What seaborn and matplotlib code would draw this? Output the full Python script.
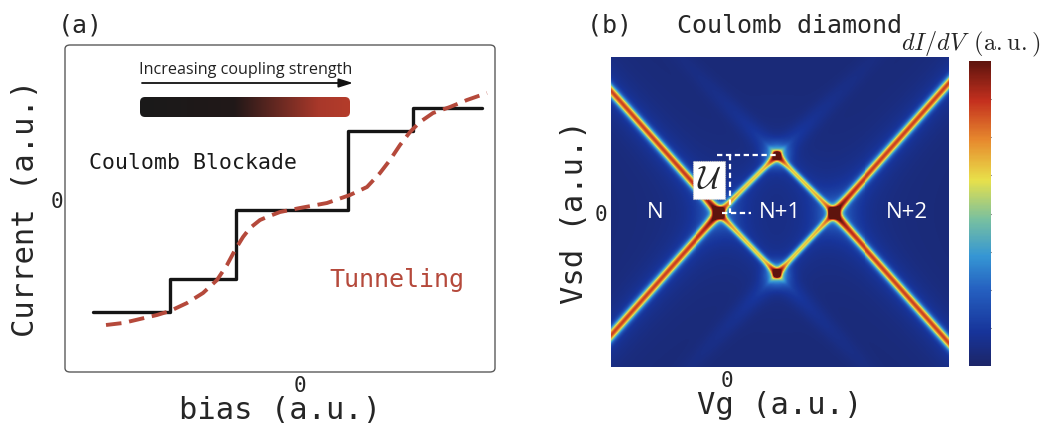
import numpy as np
import matplotlib
matplotlib.use("Agg")
import matplotlib.pyplot as plt
import seaborn as sns
import pandas as pd
from matplotlib.patches import FancyBboxPatch
from matplotlib.colors import LinearSegmentedColormap

# ---------------- panel (a): current vs bias ----------------
step_bias = [-2.07, -1.30, -0.64, 0.48, 1.13, 1.82]
step_current = [-1.12, -0.79, -0.10, 0.69, 0.92, 0.92]

smooth_bias = [-1.94, -1.77, -1.60, -1.43, -1.30, -1.13, -0.97, -0.83, -0.73,
               -0.65, -0.57, -0.50, -0.40, -0.33, -0.20, 0.00, 0.27, 0.50,
               0.67, 0.80, 0.90, 1.00, 1.10, 1.20, 1.33, 1.50, 1.67, 1.87]
smooth_current = [-1.25, -1.23, -1.19, -1.15, -1.11, -1.03, -0.93, -0.80, -0.65,
                  -0.50, -0.37, -0.28, -0.20, -0.17, -0.12, -0.08, -0.03, 0.05,
                  0.13, 0.27, 0.40, 0.55, 0.68, 0.78, 0.87, 0.93, 1.00, 1.07]

# ---------------- panel (b): Coulomb diamond ----------------
degeneracy_vg = [-0.08, 1.07]       # charge degeneracy points at Vsd = 0
vertex_vg = 0.50                    # Vg of the diamond tips
vertex_vsd = [0.58, -0.61]          # Vsd of upper / lower tip
outer_slope = 1.13                  # slope of the edges outside the diamond
vg_range = (-1.16, 2.22)
vsd_range = (-1.54, 1.56)
outer_peak, inner_peak, tail_peak = 0.70, 0.52, 0.30
background_level = 0.03
region_labels = ["N", "N+1", "N+2"]
region_vg = [-0.72, 0.53, 1.80]

MONO = "DejaVu Sans Mono"
RED = "#b5493b"

sns.set_theme(style="white")
plt.rcParams["font.family"] = [MONO, "DejaVu Sans"]
plt.rcParams["mathtext.fontset"] = "cm"

fig = plt.figure(figsize=(10.43, 4.28), dpi=100)
W, H = 1043, 428


def fig_rect(x0, y0, x1, y1):
    return [x0 / W, 1 - y1 / H, (x1 - x0) / W, (y1 - y0) / H]


# ======================= (a) =======================
ax = fig.add_axes(fig_rect(65, 45, 495, 372))
sns.lineplot(x=step_bias, y=step_current, drawstyle="steps-post", color="#151515",
             lw=2.4, estimator=None, sort=False, ax=ax)
sns.lineplot(x=smooth_bias, y=smooth_current, color=RED, lw=2.8,
             linestyle=(0, (4, 2)), estimator=None, sort=False, ax=ax)
ax.set_xlim(-2.35, 1.95)
ax.set_ylim(-1.72, 1.55)
for s in ax.spines.values():
    s.set_visible(False)
ax.add_patch(FancyBboxPatch((0, 0), 1, 1, boxstyle="round,pad=0,rounding_size=0.012",
                            transform=ax.transAxes, fill=False, edgecolor="#5a5a5a",
                            lw=1.0, clip_on=False))
ax.set_xticks([0])
ax.set_xticklabels(["0"])
ax.set_yticks([0])
ax.set_yticklabels(["0"])
ax.tick_params(length=0, labelsize=15, pad=3)
ax.tick_params(axis="y", pad=1)
ax.set_xlabel("bias (a.u.)", fontsize=22, labelpad=0)
ax.set_ylabel("Current (a.u.)", fontsize=22, labelpad=8)

# coupling-strength gradient bar
bar_cmap = LinearSegmentedColormap.from_list(
    "coupling", [(0, "#1a1a1a"), (0.45, "#211818"), (0.85, "#a8382a"), (1, "#b43c2b")])
grad = np.linspace(0, 1, 256)[None, :]
im = ax.imshow(grad, extent=(-1.60, 0.50, 0.83, 1.03), aspect="auto", cmap=bar_cmap,
               zorder=2)
clip = FancyBboxPatch((-1.60, 0.83), 2.10, 0.20, boxstyle="round,pad=0,rounding_size=0.05",
                      transform=ax.transData, facecolor="none", edgecolor="none")
ax.add_patch(clip)
im.set_clip_path(clip)
ax.set_xlim(-2.35, 1.95)
ax.set_ylim(-1.72, 1.55)

ax.annotate("", xy=(0.53, 1.17), xytext=(-1.58, 1.17),
            arrowprops=dict(arrowstyle="-|>,head_length=0.7,head_width=0.22",
                            color="#111111", lw=1.3, shrinkA=0, shrinkB=0))
ax.text(-0.54, 1.30, "Increasing coupling strength", ha="center", va="center",
        fontsize=11.6, family="Open Sans", color="#222222")
ax.text(-2.11, 0.37, "Coulomb Blockade", ha="left", va="center", fontsize=15.5,
        color="#1a1a1a")
ax.text(0.29, -0.80, "Tunneling", ha="left", va="center", fontsize=18, color=RED)

fig.text(58 / W, 1 - 25 / H, "(a)", fontsize=18, va="center", ha="left")

# ======================= (b) =======================
ncols, nrows = 340, 310
vg = np.linspace(vg_range[0], vg_range[1], ncols)
vsd = np.linspace(vsd_range[1], vsd_range[0], nrows)
X, Y = np.meshgrid(vg, vsd)


def segment_distance(p0, p1):
    (x0, y0), (x1, y1) = p0, p1
    dx, dy = x1 - x0, y1 - y0
    length = np.hypot(dx, dy)
    t = ((X - x0) * dx + (Y - y0) * dy) / length ** 2
    tc = np.clip(t, 0, 1)
    d = np.hypot(X - (x0 + tc * dx), Y - (y0 + tc * dy))
    return d, tc * length


def gauss(d, sigma):
    return np.exp(-d ** 2 / (2 * sigma ** 2))


def lorentz(d, g):
    return g ** 2 / (d ** 2 + g ** 2)


G = np.full_like(X, background_level)
far = 4.0
left_vg, right_vg = degeneracy_vg
# resonance lines outside the diamond
for x0, sgn in [(left_vg, -1), (right_vg, 1)]:
    for up in (1, -1):
        p1 = (x0 + sgn * far, up * far * outer_slope)
        d, _ = segment_distance((x0, 0.0), p1)
        G += outer_peak * gauss(d, 0.033) + 0.11 * lorentz(d, 0.13)
# diamond edges and their faint continuation past the tips
for x0 in degeneracy_vg:
    for vs in vertex_vsd:
        d, _ = segment_distance((x0, 0.0), (vertex_vg, vs))
        G += inner_peak * gauss(d, 0.025) + 0.07 * lorentz(d, 0.10)
        ux, uy = vertex_vg - x0, vs
        n = np.hypot(ux, uy)
        p1 = (vertex_vg + ux / n * far, vs + uy / n * far)
        d, s = segment_distance((vertex_vg, vs), p1)
        G += tail_peak * gauss(d, 0.018) * np.exp(-s / 0.07)
        G += 0.09 * gauss(d, 0.07) * np.exp(-s / 0.9)
# glow around the diamond tips
for vs in vertex_vsd:
    r = np.hypot(X - vertex_vg, Y - vs)
    G += 0.16 * gauss(r, 0.08)
G = np.clip(G, 0, 1)
didv = pd.DataFrame(G)

# jet-like map, slightly muted
didv_cmap = LinearSegmentedColormap.from_list("didv", [
    (0.00, "#1c2668"), (0.11, "#17349a"), (0.25, "#2560c0"), (0.36, "#3596d4"),
    (0.48, "#78c0a0"), (0.61, "#e8e04a"), (0.74, "#e78a2e"), (0.87, "#c4301e"),
    (1.00, "#5e140e")])

axh = fig.add_axes(fig_rect(611, 57, 949, 367))
axc = fig.add_axes(fig_rect(969, 61, 991, 366))
sns.heatmap(didv, ax=axh, cmap=didv_cmap, vmin=0, vmax=1, cbar_ax=axc,
            xticklabels=False, yticklabels=False)


def col(v):
    return (v - vg_range[0]) / (vg_range[1] - vg_range[0]) * ncols


def row(v):
    return (vsd_range[1] - v) / (vsd_range[1] - vsd_range[0]) * nrows


axh.set_xticks([col(0)])
axh.set_xticklabels(["0"])
axh.set_yticks([row(0)])
axh.set_yticklabels(["0"], rotation=0)
axh.tick_params(length=0, labelsize=15, pad=3)
axh.set_xlabel("Vg (a.u.)", fontsize=22, labelpad=0)
axh.set_ylabel("Vsd (a.u.)", fontsize=22, labelpad=4)

for lab, v in zip(region_labels, region_vg):
    axh.text(col(v), row(0), lab, color="white", fontsize=16, family="Open Sans",
             ha="center", va="center")

dash = dict(color="white", lw=1.6, linestyle=(0, (2.4, 1.6)))
axh.plot([col(-0.10), col(0.50)], [row(0.58), row(0.58)], **dash)
axh.plot([col(0.03), col(0.03)], [row(0.58), row(0.0)], **dash)
axh.plot([col(-0.05), col(0.24)], [row(0.0), row(0.0)], **dash)
axh.text(col(-0.18), row(0.33), r"$\mathcal{U}$", fontsize=23, ha="center", va="center",
         bbox=dict(boxstyle="square,pad=0.12", facecolor="white", edgecolor="#c8c8c8",
                   lw=0.8, linestyle=(0, (1, 1))))

cbar = axh.collections[0].colorbar
cbar.outline.set_visible(False)
cbar.set_ticks(np.arange(1, 8) / 8)
cbar.ax.tick_params(length=3, width=0.8, direction="in", left=True, right=True,
                    labelleft=False, labelright=False, colors="#333333")

fig.text(587 / W, 1 - 25 / H, "(b)   Coulomb diamond", fontsize=18, va="center",
         ha="left")
fig.text(1040 / W, 1 - 44 / H, r"$dI/dV\ \,\mathrm{(a.u.)}$", fontsize=17.5, ha="right",
         va="center")

fig.savefig("out.png", dpi=100)
